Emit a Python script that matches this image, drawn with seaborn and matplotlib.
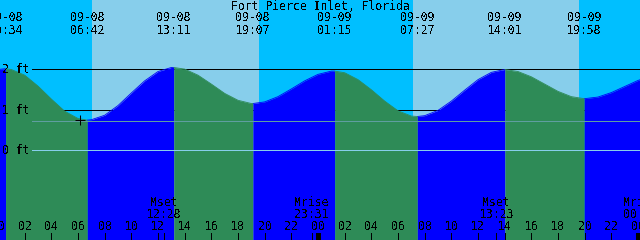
import numpy as np
import pandas as pd
import matplotlib
matplotlib.use("Agg")
import matplotlib.pyplot as plt
import matplotlib.transforms as mtransforms
import seaborn as sns

# ---------------- data ----------------
title = "Fort Pierce Inlet, Florida"
base_date = "09-08"

# high / low tide events
event_dates = ["09-08", "09-08", "09-08", "09-08", "09-09", "09-09", "09-09", "09-09"]
event_times = ["00:34", "06:42", "13:11", "19:07", "01:15", "07:27", "14:01", "19:58"]
event_levels = [2.02, 0.75, 2.05, 1.16, 1.96, 0.84, 2.00, 1.28]

# hourly water level (ft), hours 0..49 after 09-08 00:00
hourly_hours = list(range(0, 50))
hourly_levels = [2.00, 2.00, 1.86, 1.59, 1.27, 0.97, 0.79, 0.76, 0.87, 1.11,
                 1.42, 1.72, 1.95, 2.05, 2.01, 1.86, 1.64, 1.41, 1.24, 1.16,
                 1.20, 1.33, 1.52, 1.72, 1.88, 1.96, 1.92, 1.75, 1.50, 1.22,
                 0.98, 0.85, 0.86, 0.99, 1.22, 1.49, 1.75, 1.93, 2.00, 1.95,
                 1.82, 1.64, 1.46, 1.33, 1.28, 1.32, 1.43, 1.58, 1.73, 1.84]

# sun
sunrise_dates = ["09-08", "09-09"]
sunrise_times = ["07:03", "07:07"]
sunset_dates = ["09-08", "09-09"]
sunset_times = ["19:35", "19:34"]

# moon
moon_names = ["Mset", "Mrise", "Mset", "Mrise"]
moon_dates = ["09-08", "09-08", "09-09", "09-10"]
moon_times = ["12:28", "23:31", "13:23", "00:11"]

# depth lines / labels
depth_levels = [2, 1, 0]
depth_labels = ["2 ft", "1 ft", "0 ft"]
msl_level = 0.74

# marker
mark_times = ["06:09"]
mark_dates = ["09-08"]
mark_levels = [0.76]

hour_ticks = list(range(0, 49, 2))
midnights = [24, 48]

x_range = (0.15, 48.15)
y_range = (-2.21, 3.716)

# colors
c_day = "#87CEEB"
c_night = "#00BFFF"
c_flood = "#0000FF"
c_ebb = "#2E8B57"
c_datum = "#87CEEB"
c_msl = "#5F9EA0"


def to_hours(date, time):
    day = int(date.split("-")[1]) - int(base_date.split("-")[1])
    hh, mm = time.split(":")
    return day * 24 + int(hh) + int(mm) / 60.0


# ---------------- build tables ----------------
ev_h = np.array([to_hours(d, t) for d, t in zip(event_dates, event_times)])
ev_l = np.array(event_levels)

pts = pd.DataFrame({"t": list(hourly_hours) + list(ev_h),
                    "level": list(hourly_levels) + list(ev_l)})
pts = pts.drop_duplicates("t").sort_values("t").reset_index(drop=True)

bounds = [-np.inf] + list(ev_h) + [np.inf]
rows = []
for k in range(len(bounds) - 1):
    a, b = bounds[k], bounds[k + 1]
    seg = pts[(pts.t >= a) & (pts.t <= b)].copy()
    if k == 0:
        rising = ev_l[0] > ev_l[1]
    elif k == len(bounds) - 2:
        rising = ev_l[-1] < ev_l[-2]
    else:
        rising = ev_l[k] > ev_l[k - 1]
    seg["seg"] = k
    seg["phase"] = "flood" if rising else "ebb"
    rows.append(seg)
curve = pd.concat(rows, ignore_index=True)

# ---------------- plot ----------------
sns.set_theme(style="white")
plt.rcParams["font.family"] = ["DejaVu Sans Mono", "DejaVu Sans"]
plt.rcParams["text.antialiased"] = False
plt.rcParams["text.color"] = "black"

fig = plt.figure(figsize=(6.4, 2.4), dpi=100, facecolor=c_night)
ax = fig.add_axes([0, 0, 1, 1])
ax.set_xlim(*x_range)
ax.set_ylim(*y_range)

ax.axvspan(x_range[0], x_range[1], color=c_night, lw=0, zorder=0)
for sd, st, ed, et in zip(sunrise_dates, sunrise_times, sunset_dates, sunset_times):
    ax.axvspan(to_hours(sd, st), to_hours(ed, et), color=c_day, lw=0, zorder=0.5)

for lv in depth_levels[:2]:
    ax.axhline(lv, xmin=0.05, xmax=1, color="black", lw=0.72, zorder=1, antialiased=False)

palette = {"flood": c_flood, "ebb": c_ebb}
for k, seg in curve.groupby("seg"):
    ax.fill_between(seg.t, y_range[0], seg.level, color=palette[seg.phase.iloc[0]],
                    lw=0, zorder=2)
sns.lineplot(data=curve, x="t", y="level", hue="phase", units="seg", estimator=None,
             palette=palette, legend=False, lw=0.6, ax=ax, zorder=2.5)

ax.axhline(depth_levels[2], xmin=0.05, xmax=1, color=c_datum, lw=0.72, zorder=3,
           antialiased=False)
ax.axhline(msl_level, xmin=0.05, xmax=1, color=c_msl, lw=0.72, zorder=3,
           antialiased=False)

mk_h = [to_hours(d, t) for d, t in zip(mark_dates, mark_times)]
ax.plot(mk_h, mark_levels, marker="+", ms=7, mew=0.75, color="black", ls="none",
        zorder=4, antialiased=False)

fs = 8.3
H = 240.0
bt = mtransforms.blended_transform_factory(ax.transData, ax.transAxes)


def ypx(px):
    return 1 - px / H


ax.text(0.5, ypx(10), title, transform=ax.transAxes, ha="center", va="baseline",
        fontsize=fs, color="black", zorder=5)
for h, d, t in zip(ev_h, event_dates, event_times):
    ax.text(h, ypx(21), d, transform=bt, ha="center", va="baseline", fontsize=fs,
            color="black", zorder=5)
    ax.text(h, ypx(34), t, transform=bt, ha="center", va="baseline", fontsize=fs,
            color="black", zorder=5)

for n, d, t in zip(moon_names, moon_dates, moon_times):
    h = to_hours(d, t)
    ax.text(h, ypx(206), n, transform=bt, ha="center", va="baseline", fontsize=fs,
            color="black", zorder=5)
    ax.text(h, ypx(218), t, transform=bt, ha="center", va="baseline", fontsize=fs,
            color="black", zorder=5)
    ax.vlines(h, 0, 7 / H, transform=bt, color="black", lw=0.72, zorder=4,
              antialiased=False)

for h in hour_ticks:
    ax.text(h, ypx(230), f"{h % 24:02d}", transform=bt, ha="center", va="baseline",
            fontsize=fs, color="black", zorder=5)
ax.vlines(hour_ticks, 0, 7 / H, transform=bt, color="black", lw=0.72, zorder=4,
          antialiased=False)
ax.vlines(midnights, 0, 7 / H, transform=bt, color="black", lw=2.4, zorder=4,
          antialiased=False)

lt = mtransforms.offset_copy(
    mtransforms.blended_transform_factory(ax.transAxes, ax.transData),
    fig=fig, x=0, y=-4, units="dots")
for lv, lab in zip(depth_levels, depth_labels):
    ax.text(2 / 640, lv, lab, transform=lt, ha="left", va="baseline", fontsize=fs,
            color="black", zorder=5)

ax.set_axis_off()
fig.savefig("out.png", dpi=100, facecolor=c_night)
